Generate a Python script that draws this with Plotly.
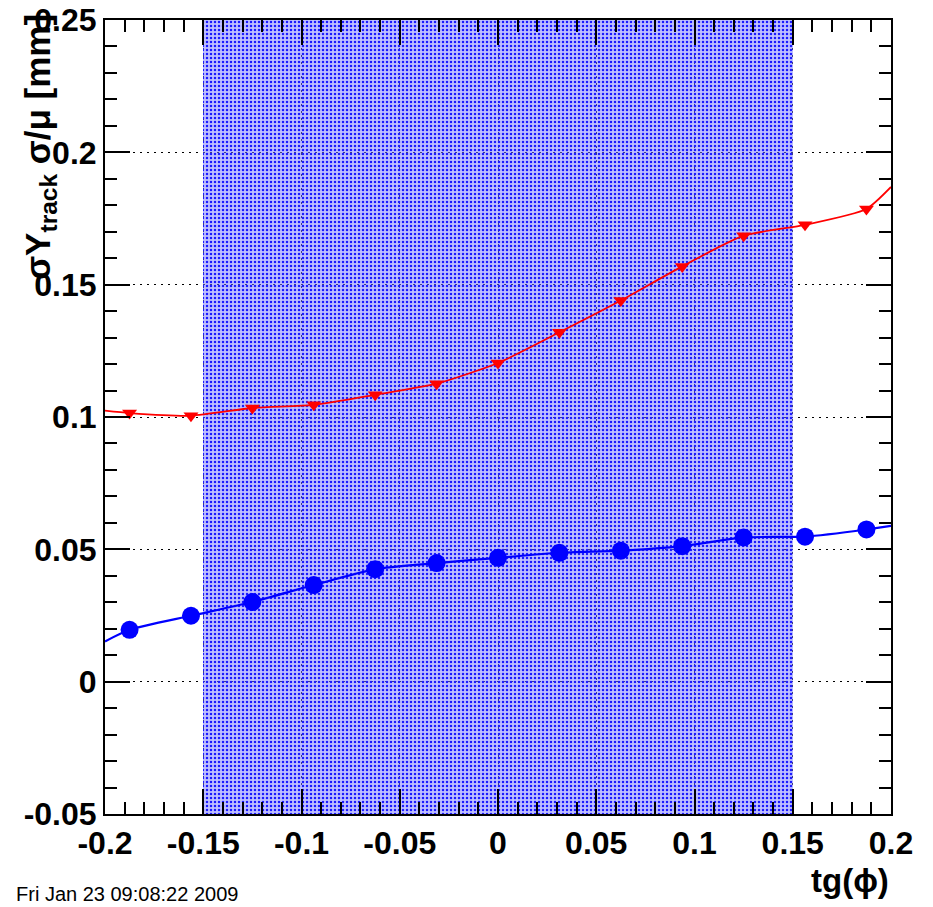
import plotly.graph_objects as go

# bin centres in tg(phi)
tg_phi = [-0.1875, -0.15625, -0.125, -0.09375, -0.0625, -0.03125, 0.0,
          0.03125, 0.0625, 0.09375, 0.125, 0.15625, 0.1875]

# resolution per bin (mm)
sigma_y = [0.0196, 0.0249, 0.0301, 0.0365, 0.0425, 0.0448, 0.0468,
           0.0487, 0.0495, 0.0512, 0.0545, 0.0548, 0.0575]
sigma_over_mu = [0.1015, 0.1005, 0.1034, 0.1046, 0.1084, 0.1126, 0.1204,
                 0.1320, 0.1440, 0.1569, 0.1685, 0.1726, 0.1786]

# smooth curves: value at the axis edges plus the bin values
curve_edge_x = [-0.2, 0.2]
sigma_y_edges = [0.0152, 0.0589]
sigma_over_mu_edges = [0.1024, 0.1869]

# acceptance band
band_x = [-0.15, 0.15]
y_range = [-0.05, 0.25]
x_range = [-0.2, 0.2]

x_tickvals = [-0.2, -0.15, -0.1, -0.05, 0.0, 0.05, 0.1, 0.15, 0.2]
x_ticktext = ["-0.2", "-0.15", "-0.1", "-0.05", "0", "0.05", "0.1", "0.15", "0.2"]
y_tickvals = [-0.05, 0.0, 0.05, 0.1, 0.15, 0.2, 0.25]
y_ticktext = ["-0.05", "0", "0.05", "0.1", "0.15", "0.2", "0.25"]

FONT = "Liberation Sans"

fig = go.Figure()

# dotted acceptance band
fig.add_trace(go.Bar(
    x=[(band_x[0] + band_x[1]) / 2], y=[y_range[1] - y_range[0]], base=[y_range[0]],
    width=[band_x[1] - band_x[0]],
    marker=dict(color="#1a1aff", line_width=0,
                pattern=dict(shape=".", size=4, solidity=0.3, fillmode="replace",
                             bgcolor="rgba(130,130,255,0.5)")),
    hoverinfo="skip", showlegend=False,
))

def curve(edges, vals):
    xs = [curve_edge_x[0]] + tg_phi + [curve_edge_x[1]]
    ys = [edges[0]] + vals + [edges[1]]
    return xs, ys

cx, cy = curve(sigma_over_mu_edges, sigma_over_mu)
fig.add_trace(go.Scatter(x=cx, y=cy, mode="lines",
                         line=dict(color="#ff0000", width=1.8, shape="spline", smoothing=0.6),
                         showlegend=False, hoverinfo="skip"))
fig.add_trace(go.Scatter(x=tg_phi, y=sigma_over_mu, mode="markers",
                         marker=dict(symbol="triangle-down", size=13, color="#ff0000"),
                         showlegend=False))

cx, cy = curve(sigma_y_edges, sigma_y)
fig.add_trace(go.Scatter(x=cx, y=cy, mode="lines",
                         line=dict(color="#0000ff", width=2.2, shape="spline", smoothing=0.6),
                         showlegend=False, hoverinfo="skip"))
fig.add_trace(go.Scatter(x=tg_phi, y=sigma_y, mode="markers",
                         marker=dict(symbol="circle", size=18, color="#0000ff"),
                         showlegend=False))

axis_common = dict(
    ticks="inside", ticklen=25, tickwidth=1.5, tickcolor="black",
    showline=True, linewidth=2, linecolor="black", mirror="ticks",
    showgrid=True, gridcolor="black", gridwidth=1.4, griddash="2px,5px",
    zeroline=False, automargin=False,
    tickfont=dict(family=FONT, size=32, color="black", weight="bold"),
    minor=dict(tickmode="linear", tick0=0, dtick=0.01, ticks="inside", ticklen=12,
               tickwidth=1.5, tickcolor="black", showgrid=False),
)

fig.update_xaxes(range=x_range, tickmode="array", tickvals=x_tickvals,
                 ticktext=x_ticktext, **axis_common)
fig.update_yaxes(range=y_range, tickmode="array", tickvals=y_tickvals,
                 ticktext=y_ticktext, **axis_common)

fig.add_annotation(
    text="σY<sub>track</sub> σ/μ [mm]", textangle=-90,
    xref="paper", yref="paper", x=-0.083, y=1.01, xanchor="center", yanchor="top",
    showarrow=False, font=dict(family=FONT, size=35, color="black", weight="bold"),
)
fig.add_annotation(
    text="tg(ϕ)", xref="paper", yref="paper", x=1.0, y=-0.084,
    xanchor="right", yanchor="middle", showarrow=False,
    font=dict(family=FONT, size=33, color="black", weight="bold"),
)
fig.add_annotation(
    text="Fri Jan 23 09:08:22 2009", xref="paper", yref="paper",
    x=-0.116, y=-0.101, xanchor="left", yanchor="middle", showarrow=False,
    font=dict(family=FONT, size=20, color="black"),
)

fig.update_layout(
    width=933, height=907,
    margin=dict(l=105, r=42, t=20, b=93),
    paper_bgcolor="white", plot_bgcolor="white",
    bargap=0, showlegend=False,
)

fig.write_html("out.html")
